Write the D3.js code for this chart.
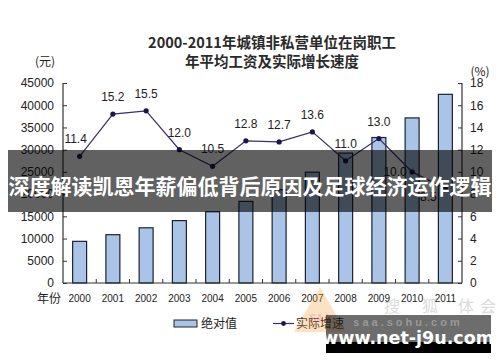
<!DOCTYPE html>
<html><head><meta charset="utf-8">
<script src="https://cdn.jsdelivr.net/npm/d3@7"></script>
<style>html,body{margin:0;padding:0;background:#fff}svg{display:block}</style>
</head><body>
<svg id="c" width="500" height="362"></svg>
<script>
const years = ["2000","2001","2002","2003","2004","2005","2006","2007","2008","2009","2010","2011"];
const wages = [9371,10870,12422,14040,16024,18364,21001,24932,29229,32736,37147,42452];
const growth = [11.4,15.2,15.5,12.0,10.5,12.8,12.7,13.6,11.0,13.0,10.0,8.5];
const leftTicks = [0,5000,10000,15000,20000,25000,30000,35000,40000,45000];
const rightTicks = [0,2,4,6,8,10,12,14,16,18];
const titleLines = ["2000-2011年城镇非私营单位在岗职工","年平均工资及实际增长速度"];
const legendLabels = ["绝对值","实际增速"];
const bannerText = "深度解读凯恩年薪偏低背后原因及足球经济运作逻辑";
const siteText = "www.net-j9u.com";

const svg = d3.select("#c");
const FONT = "'Liberation Sans', Arial, sans-serif";
const CJK = "'Noto Sans CJK SC', sans-serif";
const L = 63, R = 462, T = 83, B = 283;

const x = d3.scaleBand().domain(years).range([L, R]).paddingInner(0.58).paddingOuter(0.29);
const yL = d3.scaleLinear().domain([0, 45000]).range([B, T]);
const yR = d3.scaleLinear().domain([0, 18]).range([B, T]);

// title
svg.selectAll("text.title").data(titleLines).enter().append("text")
  .attr("x", 272).attr("y", (d,i)=> 48 + i*19).attr("text-anchor","middle")
  .attr("font-family", CJK).attr("font-size", 14.5).attr("font-weight", "bold").attr("fill","#2a2a2a").text(d=>d);
svg.append("text").attr("x",45).attr("y",66).attr("text-anchor","middle").attr("font-family",CJK).attr("font-size",12).attr("fill","#222").text("(元)");
svg.append("text").attr("x",480).attr("y",76).attr("text-anchor","middle").attr("font-family",CJK).attr("font-size",12).attr("fill","#222").text("(%)");

// bars
svg.selectAll("rect.bar").data(years).enter().append("rect")
  .attr("x", d=>x(d)).attr("y", (d,i)=>yL(wages[i])).attr("width", x.bandwidth())
  .attr("height", (d,i)=>B - yL(wages[i]))
  .attr("fill","#a9c4e6").attr("stroke","#1e2230").attr("stroke-width",1.2);

// axes
const axL = d3.axisLeft(yL).tickValues(leftTicks).tickSize(-4).tickPadding(9).tickFormat(d3.format("d"));
const gL = svg.append("g").attr("transform",`translate(${L},0)`).call(axL);
const axR = d3.axisRight(yR).tickValues(rightTicks).tickSize(-4).tickPadding(8);
const gR = svg.append("g").attr("transform",`translate(${R},0)`).call(axR);
[gL,gR].forEach(g=>{
  g.select(".domain").attr("stroke","#333").attr("stroke-width",1.2).attr("d",`M0,${T}V${B}`);
  g.selectAll(".tick line").attr("stroke","#333");
  g.selectAll("text").attr("font-family",FONT).attr("font-size",12).attr("fill","#222");
});
const axX = d3.axisBottom(x).tickSize(0).tickPadding(12);
const gX = svg.append("g").attr("transform",`translate(0,${B})`).call(axX);
gX.select(".domain").attr("stroke","#333").attr("stroke-width",1.2).attr("d",`M${L},0H${R}`);
gX.selectAll("text").attr("font-family",FONT).attr("font-size",10).attr("fill","#222");
// between-band ticks
svg.selectAll("line.xt").data(years.slice(1)).enter().append("line")
  .attr("x1", d=>x(d) - x.step()*x.paddingInner()/2).attr("x2", d=>x(d) - x.step()*x.paddingInner()/2)
  .attr("y1", B).attr("y2", B-4).attr("stroke","#333");
svg.append("text").attr("x",49).attr("y",303).attr("text-anchor","middle").attr("font-family",CJK).attr("font-size",12).attr("fill","#222").text("年份");

// line
const cx = d => x(d) + x.bandwidth()/2;
const line = d3.line().x((d,i)=>cx(years[i])).y(d=>yR(d));
svg.append("path").datum(growth).attr("d", line).attr("fill","none").attr("stroke","#3a2f6a").attr("stroke-width",1.2);
svg.selectAll("circle.pt").data(growth).enter().append("circle")
  .attr("cx",(d,i)=>cx(years[i])).attr("cy",d=>yR(d)).attr("r",2.6).attr("fill","#1c1645");
svg.selectAll("text.lbl").data(growth).enter().append("text")
  .attr("x",(d,i)=> i>=10 ? cx(years[i]) - 17 : cx(years[i]) - (i===0?4:0))
  .attr("y",(d,i)=> i===10 ? yR(d)+4 : i===11 ? yR(d)+12 : yR(d) - 13)
  .attr("text-anchor","middle").attr("font-family",FONT).attr("font-size",12).attr("fill","#222")
  .text(d=>d.toFixed(1));

// legend
svg.append("rect").attr("x",174).attr("y",320).attr("width",23).attr("height",7).attr("fill","#a9c4e6").attr("stroke","#1e2230");
svg.append("text").attr("x",201).attr("y",328).attr("font-family",CJK).attr("font-size",12).attr("fill","#222").text(legendLabels[0]);
svg.append("line").attr("x1",273).attr("x2",294).attr("y1",323.5).attr("y2",323.5).attr("stroke","#3a2f6a").attr("stroke-width",1.2);
svg.append("circle").attr("cx",283.5).attr("cy",323.5).attr("r",2.4).attr("fill","#1c1645");
svg.append("text").attr("x",296).attr("y",328).attr("font-family",CJK).attr("font-size",12).attr("fill","#222").text(legendLabels[1]);

// faint watermark
const wm = svg.append("g").attr("opacity",0.3);
wm.append("path").attr("d","M320,287 L346,332 L294,332 Z").attr("fill","#f4a23a");
wm.append("text").attr("x",320).attr("y",322).attr("text-anchor","middle").attr("font-family",FONT).attr("font-weight","bold").attr("font-size",10).attr("fill","#d22").text("SAA");
["搜","狐","体","会"].forEach((c,i)=>{
  wm.append("text").attr("x",[392,430,466,488][i]).attr("y",312).attr("text-anchor","middle").attr("font-family",CJK).attr("font-size",16).attr("fill","#888").text(c);
});

// banner
svg.append("rect").attr("x",8).attr("y",150).attr("width",484).attr("height",62).attr("fill","rgba(0,0,0,0.62)");
svg.append("text").attr("x",250).attr("y",194).attr("text-anchor","middle").attr("font-family",CJK).attr("font-weight","bold").attr("font-size",21).attr("fill","#fff").text(bannerText);

// site box
svg.append("rect").attr("x",326).attr("y",315).attr("width",165).attr("height",27).attr("fill","rgba(20,20,20,0.62)");
svg.append("text").attr("x",408).attr("y",326).attr("text-anchor","middle").attr("font-family",FONT).attr("font-weight","bold").attr("font-size",11).attr("letter-spacing",3).attr("fill","#999").text("saa.sohu.com");
svg.append("rect").attr("x",326).attr("y",342).attr("width",165).attr("height",11).attr("fill","#000");
svg.append("text").attr("x",408).attr("y",344).attr("text-anchor","middle").attr("font-family","'DejaVu Sans', sans-serif").attr("font-weight","bold").attr("font-size",17.5).attr("fill","#fff").text(siteText);
</script>
</body></html>
